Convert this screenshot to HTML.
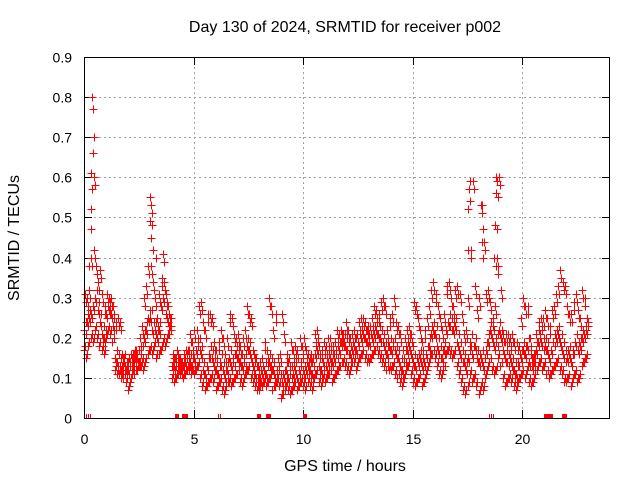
<!DOCTYPE html>
<html><head><meta charset="utf-8"><style>
html,body{margin:0;padding:0;background:#fff;}
svg{display:block;font-family:"Liberation Sans",sans-serif;}
</style></head><body>
<svg id="chart" width="640" height="480" viewBox="0 0 640 480" xmlns="http://www.w3.org/2000/svg">
<rect width="640" height="480" fill="#fff"/>
<text x="345" y="32" font-size="16" text-anchor="middle" fill="#000">Day 130 of 2024, SRMTID for receiver p002</text>
<text transform="translate(19,238) rotate(-90)" font-size="16" text-anchor="middle" fill="#000">SRMTID / TECUs</text>
<text x="345" y="471" font-size="16" text-anchor="middle" fill="#000">GPS time / hours</text>
<g id="grid"></g>
<g id="ticks"></g>
<g id="pts"></g>
<rect x="84.5" y="57.5" width="525" height="361" fill="none" stroke="#000" stroke-width="1" shape-rendering="crispEdges"/>
</svg>
<script>
const xTicks=[0,5,10,15,20];
const yTicks=[0,0.1,0.2,0.3,0.4,0.5,0.6,0.7,0.8,0.9];
const yTickLabels=["0","0.1","0.2","0.3","0.4","0.5","0.6","0.7","0.8","0.9"];
const step=0.1;
const lo=[17,15,18,20,19,22,20,18,17,16, 20,22,21,19,12,11,11,10,10,9, 7,9,11,11,12,13,13,12,14,16, 17,16,18,15,16,17,19,18,20,21, 10,9,10,11,11,10,11,12,12,11, 11,12,13,10,8,7,8,9,10,9, 7,8,9,7,6,8,9,8,9,10, 11,9,8,10,11,12,10,9,8,7, 7,8,9,8,9,10,7,8,9,8, 5,6,8,7,6,7,8,7,8,9, 8,7,9,8,7,10,11,9,8,10, 9,10,11,9,10,11,12,13,14,13, 12,11,13,14,12,14,15,16,15,14, 14,15,16,17,16,15,14,13,12,12, 12,13,11,10,9,8,10,12,13,11, 9,8,9,10,8,9,11,13,15,16, 15,13,11,10,12,16,17,16,15,16, 13,11,9,7,6,8,11,9,10,8, 6,8,7,10,12,14,12,11,12,15, 13,10,8,9,10,9,8,7,9,10, 11,10,12,9,8,9,11,13,14,12, 13,11,10,11,12,13,14,12,11,9, 9,10,8,10,11,9,10,13,14,15];
const mid=[22,24,25,26,28,30,27,24,21,20, 26,27,26,23,15,14,13,13,14,12, 12,13,14,15,15,14,16,20,22,25, 25,22,22,20,22,28,30,26,24,23, 13,13,14,13,12,13,14,15,14,13, 15,17,18,16,12,11,13,16,15,13, 12,11,14,12,10,12,15,13,14,16, 15,14,13,14,18,17,15,13,11,10, 10,11,12,11,14,13,12,10,11,12, 9,10,12,10,11,11,12,10,12,13, 11,12,13,12,11,16,17,13,12,14, 13,14,15,14,15,16,17,19,19,18, 17,16,17,18,17,19,20,21,20,19, 19,20,21,22,21,20,19,17,16,18, 17,18,16,15,13,12,15,17,18,16, 14,13,14,15,13,14,16,18,21,22, 21,18,16,15,17,22,24,23,22,23, 19,17,15,14,12,15,19,16,18,15, 14,15,13,17,19,22,20,18,19,22, 20,17,15,14,15,13,12,11,14,15, 17,16,18,14,13,14,17,19,20,18, 18,17,15,17,19,20,21,19,17,15, 15,16,14,17,19,17,18,20,21,22];
const hi=[31,30,32,40,60,38,34,37,31,28, 31,30,30,28,24,25,24,16,15,14, 15,16,16,17,16,20,23,30,33,38, 38,34,30,25,31,35,34,31,28,25, 16,15,17,15,14,16,17,17,21,19, 22,22,28,29,24,22,26,26,25,19, 17,19,22,20,16,20,26,25,21,20, 21,18,20,22,28,26,25,16,15,13, 14,15,19,17,30,28,22,26,15,16, 26,21,16,15,19,17,18,17,20,18, 20,17,16,16,15,21,22,18,17,19, 18,20,20,18,19,22,21,22,21,24, 22,20,21,22,21,24,25,25,24,23, 23,25,28,27,26,29,30,28,22,25, 26,30,24,23,21,17,20,22,23,21, 29,28,25,22,19,22,25,28,32,34, 31,28,25,22,26,33,34,30,28,32, 33,31,26,21,22,30,42,59,33,27, 30,53,44,31,32,29,25,28,40,60, 32,21,21,21,20,21,19,19,18,25, 30,28,28,20,15,16,21,24,25,25, 27,25,23,27,28,31,33,37,34,33, 28,26,26,29,31,27,25,32,30,25];
const spikeT=[0.35,0.4,0.45,0.4,0.3,0.35,0.3,0.3,0.45,0.5,0.25,3.0,3.05,3.1,3.0,3.1,3.05,3.15,3.3,3.6,3.65,17.6,17.55,17.5,17.6,18.1,18.15,18.2,18.15,18.8,18.85,18.8,18.9,18.75,18.85,18.7,18.8,17.5,18.2,18.9];
const spikeV=[0.80,0.77,0.70,0.66,0.61,0.57,0.52,0.47,0.42,0.40,0.38,0.55,0.53,0.51,0.49,0.48,0.45,0.42,0.40,0.41,0.39,0.59,0.57,0.52,0.54,0.53,0.51,0.47,0.44,0.60,0.59,0.56,0.55,0.48,0.47,0.40,0.38,0.42,0.40,0.36];
const zeroT=[0.1,0.18,4.15,4.22,4.45,4.5,4.55,4.6,6.1,7.9,7.95,8.3,8.35,8.4,10.0,10.05,14.1,14.15,18.5,18.55,21.0,21.05,21.1,21.2,21.25,21.8,21.85,21.9];

const X0=84,X1=610,Y0=418,Y1=57;
const xs=t=>X0+t/24*(X1-X0);
const ys=v=>Y0-v/0.9*(Y0-Y1);
const NS="http://www.w3.org/2000/svg";
const grid=document.getElementById('grid'),ticks=document.getElementById('ticks'),pts=document.getElementById('pts');
function ln(p,x1,y1,x2,y2,st,da){const l=document.createElementNS(NS,'line');l.setAttribute('x1',x1);l.setAttribute('y1',y1);l.setAttribute('x2',x2);l.setAttribute('y2',y2);l.setAttribute('stroke',st);l.setAttribute('shape-rendering','crispEdges');if(da)l.setAttribute('stroke-dasharray',da);p.appendChild(l);return l;}
function tx(s,x,y,a){const e=document.createElementNS(NS,'text');e.textContent=s;e.setAttribute('x',x);e.setAttribute('y',y);e.setAttribute('font-size','14');e.setAttribute('text-anchor',a);e.setAttribute('fill','#000');ticks.appendChild(e);return e;}
yTicks.forEach((v,i)=>{const y=Math.round(ys(v))+0.5;
 if(i>0&&i<yTicks.length-1){const g=ln(grid,X0,y,X1,y,'#a0a0a0','2,3');
 
 }
 ln(ticks,X0,y,X0+8,y,'#000');ln(ticks,X1-8,y,X1,y,'#000');
 const t=tx(yTickLabels[i],72,y+5,'end');
 
 });
xTicks.forEach((v,i)=>{const x=Math.round(xs(v))+0.5;
 if(i>0){const g=ln(grid,x,Y1,x,Y0,'#a0a0a0','2,3');
 
 }
 ln(ticks,x,Y0-8,x,Y0,'#000');ln(ticks,x,Y1,x,Y1+8,'#000');
 const t=tx(String(v),x,444,'middle');
 
 });
let d='';
function plus(t,v){const x=Math.round(xs(t))+0.5,y=Math.round(ys(v))+0.5;d+=`M${x-4} ${y}h8M${x} ${y-4}v8`;}
for(let i=0;i<lo.length;i++){const t=i*step;
 plus(t,lo[i]/100);plus(t+0.05,lo[i]/100+0.01);
 plus(t+0.02,mid[i]/100);plus(t+0.07,mid[i]/100-0.01);plus(t+0.09,mid[i]/100+0.02);
 plus(t+0.04,hi[i]/100);plus(t+0.08,hi[i]/100-0.02);}
spikeT.forEach((t,i)=>plus(t,spikeV[i]));
zeroT.forEach(t=>{const x=Math.round(xs(t))+0.5;d+=`M${x} ${Y0-4}v4M${x+2} ${Y0-4}v4`;});
const p=document.createElementNS(NS,'path');p.setAttribute('d',d);p.setAttribute('stroke','#ff0000');p.setAttribute('stroke-width','1');p.setAttribute('fill','none');p.setAttribute('shape-rendering','crispEdges');


pts.appendChild(p);
</script>
</body></html>
